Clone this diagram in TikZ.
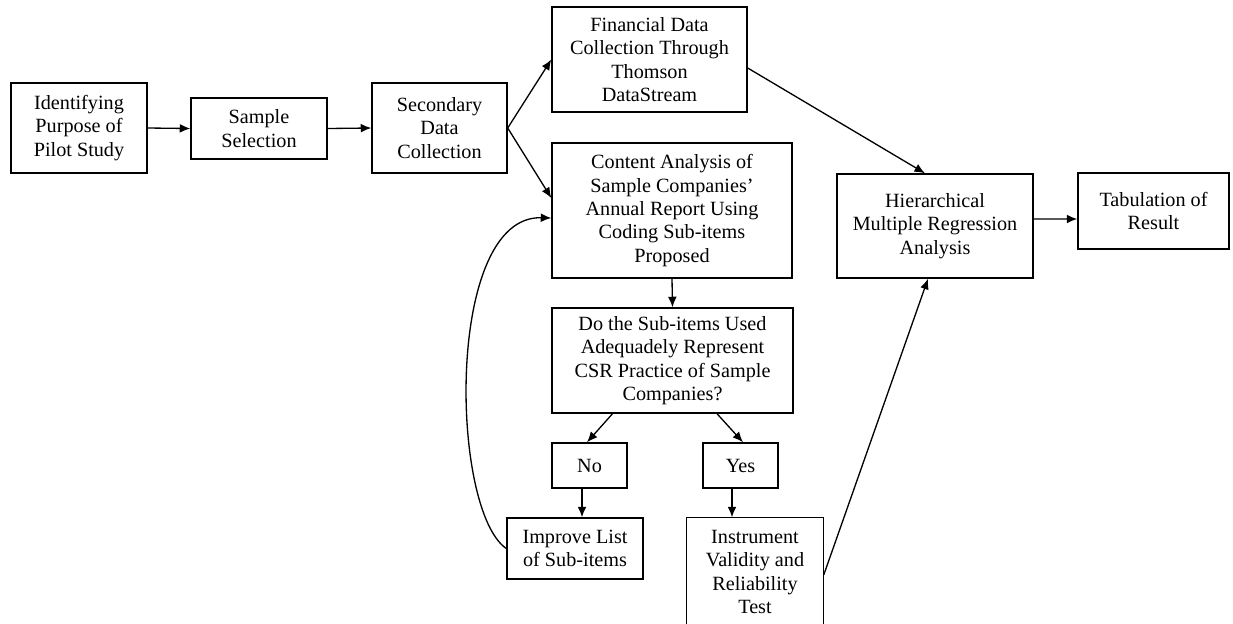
\documentclass[tikz,border=0pt]{standalone}
\usepackage{fontspec}
\setmainfont{Liberation Serif}
\usetikzlibrary{arrows.meta,calc}
\begin{document}
\begin{tikzpicture}[
  box/.style={draw, line width=0.8pt, align=center, inner sep=2pt,
    font=\fontsize{11.5}{13.3}\selectfont},
  arr/.style={line width=0.75pt, -{Latex[length=6pt,width=5pt]}}
]
\useasboundingbox (0,0) rectangle (24.66,-12.46);
\node[box, minimum width=2.72cm, minimum height=1.8cm] (b1) at (1.58,-2.56) {Identifying\\Purpose of\\Pilot Study};
\node[box, minimum width=2.72cm, minimum height=1.22cm] (b2) at (5.18,-2.57) {Sample\\Selection};
\node[box, minimum width=2.70cm, minimum height=1.8cm] (b3) at (8.79,-2.56) {Secondary\\Data\\Collection};
\node[box, minimum width=3.9cm, minimum height=2.1cm] (fin) at (12.99,-1.19) {Financial Data\\Collection Through\\Thomson\\DataStream};
\node[box, minimum width=4.8cm, minimum height=2.7cm] (cont) at (13.44,-4.21) {Content Analysis of\\Sample Companies’\\Annual Report Using\\Coding Sub-items\\Proposed};
\node[box, minimum width=4.82cm, minimum height=2.1cm] (do) at (13.45,-7.21) {Do the Sub-items Used\\Adequadely Represent\\CSR Practice of Sample\\Companies?};
\node[box, minimum width=1.5cm, minimum height=0.9cm] (no) at (11.79,-9.31) {No};
\node[box, minimum width=1.5cm, minimum height=0.9cm] (yes) at (14.81,-9.31) {Yes};
\node[box, minimum width=2.72cm, minimum height=1.22cm] (imp) at (11.5,-10.97) {Improve List\\of Sub-items};
\node[box, draw=none, minimum width=2.72cm, minimum height=2.16cm] (ins) at (15.1,-11.44) {Instrument\\Validity and\\Reliability\\Test};
\draw[line width=0.8pt] (ins.north west) rectangle ([yshift=-0.4cm]ins.south east);
\node[box, minimum width=3.92cm, minimum height=2.08cm] (hier) at (18.7,-4.52) {Hierarchical\\Multiple Regression\\Analysis};
\node[box, minimum width=3.02cm, minimum height=1.52cm] (tab) at (23.07,-4.22) {Tabulation of\\Result};

\draw[arr] (b1.east) -- (b2.west);
\draw[arr] (b2.east) -- (b3.west);
\draw[arr] (b3.east) -- (fin.west);
\draw[arr] (b3.east) -- ([yshift=0.25cm]cont.west);
\draw[arr] (imp.west) .. controls (9.0,-10.2) and (8.9,-4.3) .. ([yshift=-0.15cm]cont.west);
\draw[arr] ([yshift=-0.17cm]fin.east) -- ([xshift=-0.2cm]hier.north);
\draw[arr] ([yshift=-0.06cm]ins.east) -- ([xshift=-0.14cm]hier.south);
\draw[arr] ([yshift=0.14cm]hier.east) -- ([yshift=-0.16cm]tab.west);
\draw[arr] (cont.south) -- (do.north);
\draw[arr] ([xshift=-1.2cm]do.south) -- ([xshift=-0.05cm]no.north);
\draw[arr] ([xshift=0.89cm]do.south) -- ([xshift=0.05cm]yes.north);
\draw[arr] ([xshift=-0.15cm]no.south) -- ([xshift=-0.15cm]no.south |- imp.north);
\draw[arr] ([xshift=-0.17cm]yes.south) -- ([xshift=-0.17cm]yes.south |- ins.north);
\end{tikzpicture}
\end{document}
